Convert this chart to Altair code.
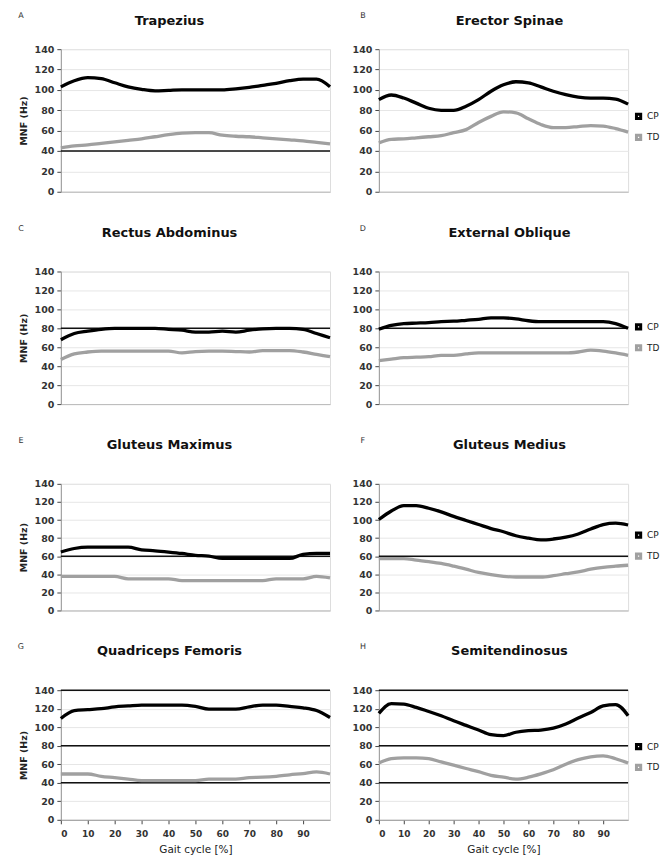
import altair as alt
import pandas as pd

# gait cycle positions (%)
gait_pct = list(range(0, 101, 5))

# MNF (Hz), CP = black, TD = grey
trap_cp = [103, 109, 112, 111, 107, 103, 100.5, 99, 99.5, 100, 100, 100, 100, 101, 102.5, 104.5, 106.5, 109, 110.5, 110.5, 103]
trap_td = [43, 45, 46, 47.5, 49, 50.5, 52, 54, 56, 57.5, 58, 58, 55.5, 54.5, 54, 53, 52, 51, 50, 48.5, 47]

erec_cp = [90.5, 95, 92, 87, 82, 80, 80, 84, 90.5, 98.7, 105, 108, 107, 103, 98.7, 95.4, 93, 92, 92, 91, 86]
erec_td = [48, 51.5, 52, 53, 54, 55, 58, 61, 68, 74, 78.5, 77.5, 71.6, 66, 63, 63, 64, 65, 64.5, 62, 58.6]

rect_cp = [68, 74.5, 77, 79, 80, 80, 80, 80, 79, 78, 76, 76, 77, 76, 78, 79.5, 80, 80, 79, 74.5, 70]
rect_td = [47, 53, 55, 56, 56, 56, 56, 56, 56, 54, 55.5, 56, 56, 55.5, 55, 56.5, 56.5, 56.5, 55, 52.5, 50]

extob_cp = [79, 83, 85, 85.5, 86, 87, 87.5, 88.5, 89.5, 91, 91, 90, 88, 87, 87, 87, 87, 87, 87, 85, 80]
extob_td = [46, 47.5, 49, 49.5, 50, 51.5, 51.5, 53, 54, 54, 54, 54, 54, 54, 54, 54, 55, 57, 56, 54, 51.5]

gmax_cp = [64.6, 68.5, 70, 70, 70, 70, 67, 66, 64.6, 63, 61, 60, 57.5, 57.5, 57.5, 57.5, 57.5, 57.5, 62, 63, 63]
gmax_td = [37.7, 37.7, 37.7, 37.7, 37.7, 35, 35, 35, 35, 33, 33, 33, 33, 33, 33, 33, 35, 35, 35, 37.7, 36]

gmed_cp = [100.5, 110, 116, 116, 113, 109, 104, 99.5, 95, 90.5, 87, 82.6, 80, 78, 79, 81, 84.5, 90, 95, 96.5, 94.5]
gmed_td = [57.4, 57.4, 57.4, 55.6, 54, 52, 49, 45.6, 42, 39.5, 37.7, 37, 37, 37, 38.4, 40.6, 42.7, 45.6, 47.7, 49, 50]

quad_cp = [109.5, 118, 119, 120, 122, 123, 124, 124, 124, 124, 122.5, 119.5, 119.5, 119.5, 122, 124, 124, 122.5, 121, 118, 110.5]
quad_td = [49.5, 49.5, 49.5, 47, 45.6, 44, 42.4, 42.4, 42.4, 42.4, 42.4, 44, 44, 44, 45.6, 46, 47, 48.6, 50, 51.7, 49.5]

semi_cp = [115, 125.5, 125, 121.4, 117, 112.5, 107, 102, 97, 92, 91, 94.6, 96.4, 97, 99, 103.5, 110, 116, 123, 124.5, 112.5]
semi_td = [61.4, 66, 67, 67, 66, 62.5, 59, 55.4, 52, 48, 46, 44, 46, 49.6, 54, 60, 65, 68, 69, 66, 61.4]

# dark horizontal gridlines visible in each panel
dark_a = [40]
dark_b = []
dark_c = [80]
dark_d = [80]
dark_e = [60]
dark_f = [60]
dark_g = [140, 80, 40]
dark_h = [140, 80, 40]

letters = ["A", "B", "C", "D", "E", "F", "G", "H"]
muscles = ["Trapezius", "Erector Spinae", "Rectus Abdominus", "External Oblique",
           "Gluteus Maximus", "Gluteus Medius", "Quadriceps Femoris", "Semitendinosus"]
groups = ["CP", "TD"]
y_ticks = [0, 20, 40, 60, 80, 100, 120, 140]
x_ticks = [0, 10, 20, 30, 40, 50, 60, 70, 80, 90]

series = [(trap_cp, trap_td), (erec_cp, erec_td), (rect_cp, rect_td), (extob_cp, extob_td),
          (gmax_cp, gmax_td), (gmed_cp, gmed_td), (quad_cp, quad_td), (semi_cp, semi_td)]
darks = [dark_a, dark_b, dark_c, dark_d, dark_e, dark_f, dark_g, dark_h]

FONT = "DejaVu Sans"
row_heights = [143, 133, 127, 130]
col_widths = [270, 250]
letter_y = [-33, -43, -43, -43]
title_y = [-28, -39, -39, -39]
title_x = [109, 131]
legend_y = [63, 51, 47, 52]
letter_x = [-40, -16]


def panel(i):
    row, col = divmod(i, 2)
    cp, td = series[i]
    df = pd.DataFrame({
        "pct": gait_pct + gait_pct,
        "mnf": cp + td,
        "group": [groups[0]] * len(cp) + [groups[1]] * len(td),
    })
    xscale = alt.Scale(domain=[0, 100], nice=False)
    yscale = alt.Scale(domain=[0, 140], nice=False)
    if row == 3:
        xaxis = alt.Axis(values=x_ticks, title="Gait cycle [%]", grid=False,
                         labelFont=FONT, labelFontSize=9, labelFontWeight="bold",
                         labelColor="#333", labelPadding=6, tickSize=4, tickColor="#444",
                         domainColor="#999", titleFont=FONT, titleFontSize=10.5,
                         titleFontWeight="normal", titleColor="#222", titlePadding=6)
    else:
        xaxis = alt.Axis(labels=False, ticks=False, title=None, grid=False,
                         domainColor="#bbbbbb")
    yaxis = alt.Axis(values=y_ticks, grid=True, gridColor="#e6e6e6",
                     labelFont=FONT, labelFontSize=9.5, labelFontWeight="bold",
                     labelColor="#333", labelPadding=3, tickSize=4, tickColor="#444",
                     domainColor="#999",
                     title="MNF (Hz)" if col == 0 else None,
                     titleFont=FONT, titleFontSize=9.5, titleFontWeight="bold",
                     titleColor="#222", titlePadding=6)
    if col == 1:
        legend = alt.Legend(title=None, orient="none", legendX=256, legendY=legend_y[row],
                            symbolType="square", symbolSize=18, symbolStrokeWidth=3,
                            labelFont=FONT, labelFontSize=9, labelColor="#222",
                            labelOffset=4, rowPadding=4, padding=0)
    else:
        legend = None

    lines = alt.Chart(df).mark_line(strokeWidth=3.3, interpolate="monotone").encode(
        x=alt.X("pct:Q", scale=xscale, axis=xaxis),
        y=alt.Y("mnf:Q", scale=yscale, axis=yaxis),
        color=alt.Color("group:N", scale=alt.Scale(domain=groups, range=["#000000", "#a0a0a0"]),
                        legend=legend),
    )
    layers = []
    if darks[i]:
        rules = alt.Chart(pd.DataFrame({"mnf": darks[i]})).mark_rule(
            color="#111", strokeWidth=1.4).encode(
            y=alt.Y("mnf:Q", scale=yscale, axis=yaxis))
        layers.append(rules)
    layers.append(lines)
    label = alt.Chart(pd.DataFrame({"t": [letters[i]]})).mark_text(
        font=FONT, fontSize=8, color="#333", align="center", baseline="middle").encode(
        text="t:N", x=alt.value(letter_x[col]), y=alt.value(letter_y[row]))
    layers.append(label)
    heading = alt.Chart(pd.DataFrame({"t": [muscles[i]]})).mark_text(
        font=FONT, fontSize=13, fontWeight="bold", color="#111",
        align="center", baseline="middle").encode(
        text="t:N", x=alt.value(title_x[col]), y=alt.value(title_y[row]))
    layers.append(heading)
    return alt.layer(*layers).properties(width=col_widths[col], height=row_heights[row])


rows = []
for r in range(4):
    rows.append(alt.hconcat(panel(2 * r), panel(2 * r + 1), spacing=13)
                .resolve_scale(color="independent"))

chart = alt.vconcat(*rows, spacing=27).resolve_scale(color="independent").properties(
    padding={"left": 9, "top": 2, "right": 0, "bottom": 0}
).configure_view(stroke="#c8c8c8").configure(background="white")

chart.save("out.html", embed_options={"renderer": "svg", "actions": False})
